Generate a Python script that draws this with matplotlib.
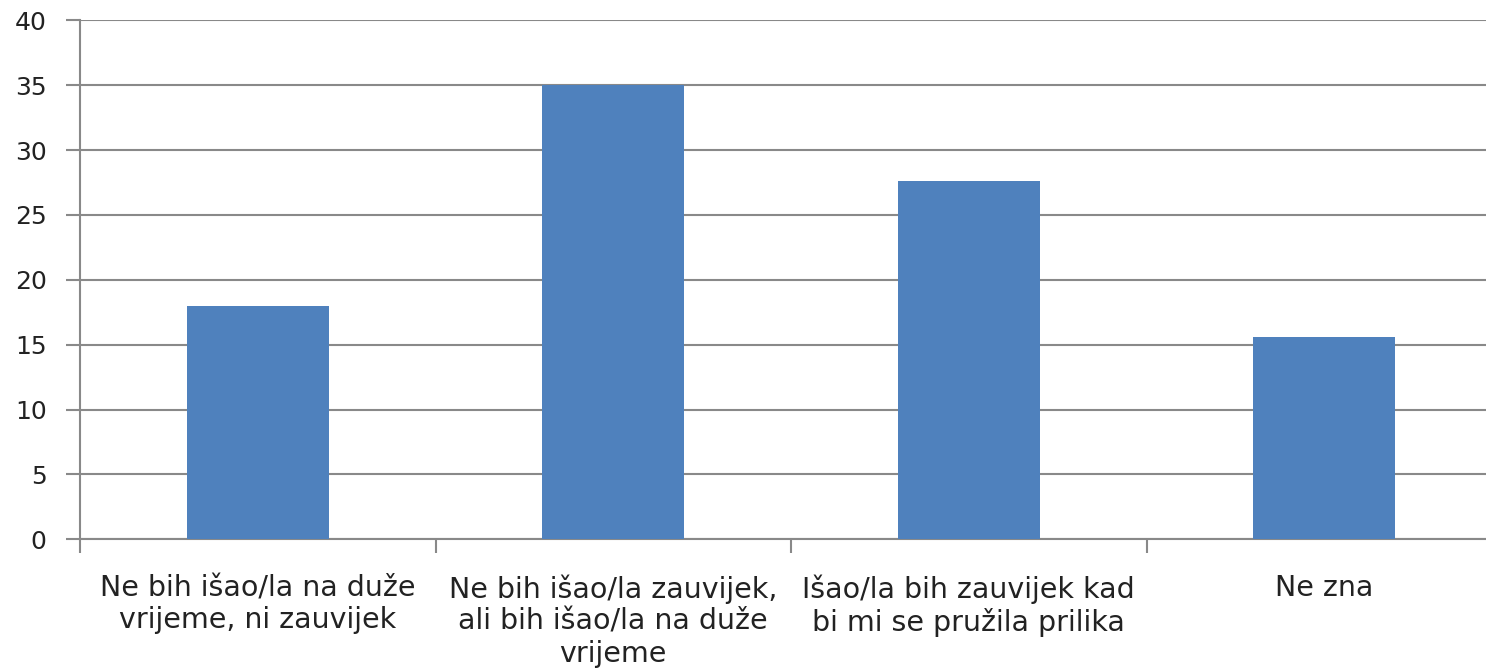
import matplotlib.pyplot as plt
import numpy as np

# Kategorije i vrijednosti (%)
categories = [
    "Ne bih išao/la na duže\nvrijeme, ni zauvijek",
    "Ne bih išao/la zauvijek,\nali bih išao/la na duže\nvrijeme",
    "Išao/la bih zauvijek kad\nbi mi se pružila prilika",
    "Ne zna",
]
values = [18.0, 35.0, 27.6, 15.6]
y_ticks = [0, 5, 10, 15, 20, 25, 30, 35, 40]

bar_color = "#4F81BD"
line_color = "#898989"

fig = plt.figure(figsize=(14.86, 6.72), dpi=100)
ax = fig.add_axes([80 / 1486, 132.7 / 672, 1422 / 1486, 519 / 672])

x = np.arange(len(categories))
ax.bar(x, values, width=0.40, color=bar_color, zorder=3)

ax.set_xlim(-0.5, len(categories) - 0.5)
ax.set_ylim(0, 40)
ax.set_yticks(y_ticks)
ax.set_yticklabels([str(t) for t in y_ticks], fontsize=18, color="#222222")

ax.set_xticks(x)
ax.set_xticklabels(categories, fontsize=20.5, color="#222222", linespacing=1.2)
ax.set_xticks(np.arange(len(categories) + 1) - 0.5, minor=True)
ax.tick_params(axis="x", which="major", length=0, pad=25)
ax.tick_params(axis="x", which="minor", length=10, width=1.5, color=line_color)
ax.tick_params(axis="y", length=10, width=1.5, color=line_color, pad=14)

ax.yaxis.grid(True, color=line_color, linewidth=1.5, zorder=0)
ax.set_axisbelow(True)

for s in ["top", "right"]:
    ax.spines[s].set_visible(False)
for s in ["left", "bottom"]:
    ax.spines[s].set_color(line_color)
    ax.spines[s].set_linewidth(1.5)

plt.savefig("out.png", dpi=100)
plt.close("all")
